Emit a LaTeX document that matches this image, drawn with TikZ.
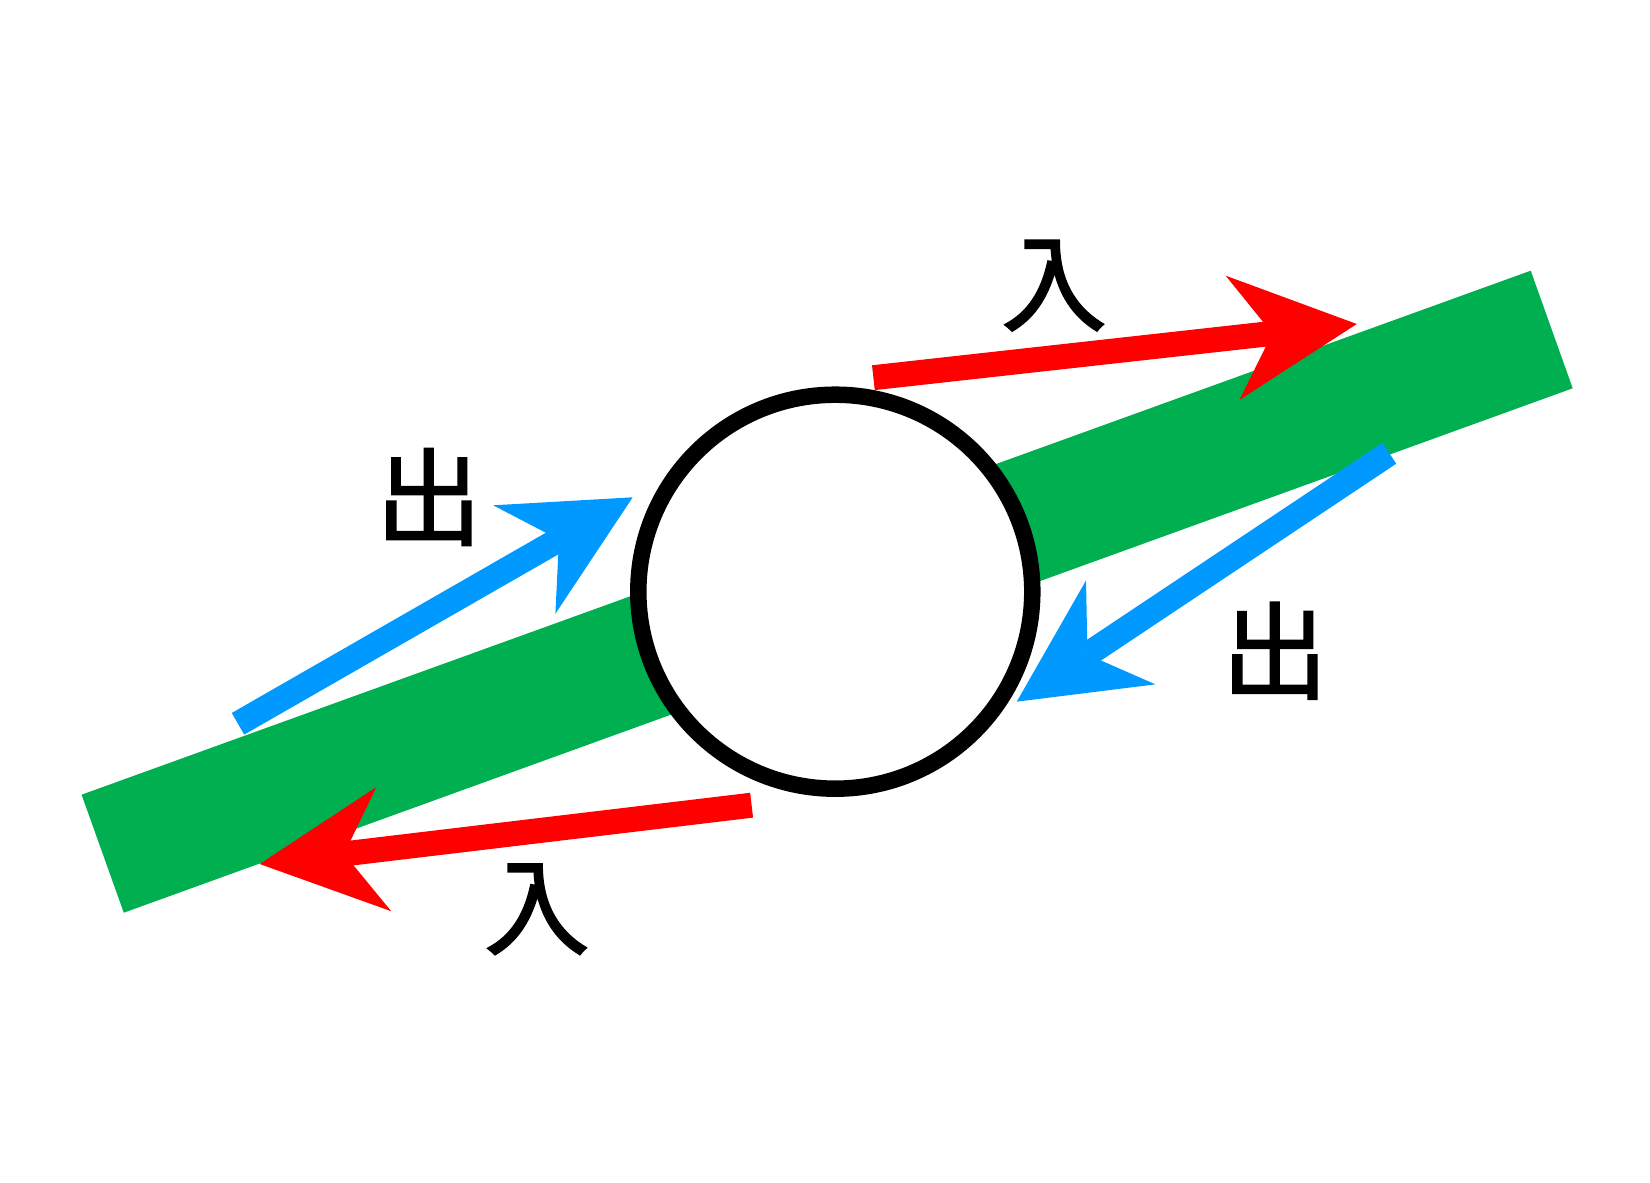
\documentclass[tikz,border=0pt]{standalone}
\usepackage{fontspec}
\newfontfamily\cjk[FakeBold=1.5]{Noto Sans CJK TC}
\usetikzlibrary{calc}
\definecolor{bandgreen}{RGB}{0,176,80}
\definecolor{flowred}{RGB}{255,0,0}
\definecolor{flowblue}{RGB}{0,153,255}
\tikzset{
  band/.style={fill=bandgreen},
  hub/.style={circle, draw=black, fill=white, line width=16.5pt, minimum size=394pt, inner sep=0pt},
  lbl/.style={inner sep=0pt, font=\cjk\fontsize{106pt}{106pt}\selectfont},
}
% #1 colour, #2 start coordinate, #3 tip coordinate
\newcommand\fatarrow[3]{%
  \path ($(#3)!125pt!(#2)$) coordinate (#3-b)
        ($(#3)!85pt!(#2)$) coordinate (#3-n);
  \path ($(#3-b)!62.5pt!90:(#3)$) coordinate (#3-l)
        ($(#3-b)!62.5pt!-90:(#3)$) coordinate (#3-r);
  \draw[#1, line width=25pt] (#2) -- (#3-n);
  \fill[#1] (#3) -- (#3-l) -- (#3-n) -- (#3-r) -- cycle;
}
\begin{document}
\begin{tikzpicture}[x=1pt, y=-1pt]
\useasboundingbox (0,0) rectangle (1650,1183);
% green band
\fill[band] (81.6,794.7) -- (1530.7,270.7) -- (1572.7,388.3) -- (123.8,912.7) -- cycle;
% circle
\node[hub] (c) at (835.3,591.7) {};
% arrow coordinates
\coordinate (rts) at (873.4,377.7);
\coordinate (rtt) at (1356.8,324);
\coordinate (rbs) at (751.6,805.2);
\coordinate (rbt) at (259.7,864);
\coordinate (bls) at (238,723.8);
\coordinate (blt) at (632.7,497.3);
\coordinate (brs) at (1389.3,453.3);
\coordinate (brt) at (1016.7,701.7);
\fatarrow{flowred}{rts}{rtt}
\fatarrow{flowred}{rbs}{rbt}
\fatarrow{flowblue}{bls}{blt}
\fatarrow{flowblue}{brs}{brt}
% labels
\node[lbl] (in1) at (1054,285.7) {入};
\node[lbl] (in2) at (536.9,909.3) {入};
\node[lbl] (out1) at (429,497) {出};
\node[lbl] (out2) at (1275,650.7) {出};
\end{tikzpicture}
\end{document}
